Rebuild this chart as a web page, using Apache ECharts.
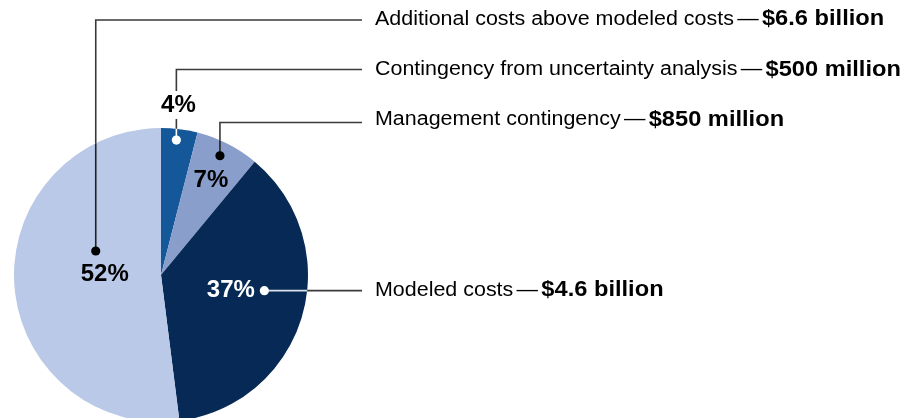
<!DOCTYPE html>
<html>
<head>
<meta charset="utf-8">
<title>Cost estimate components</title>
<style>
  html, body { margin: 0; padding: 0; background: #fff; }
  #main { width: 912px; height: 418px; }
</style>
</head>
<body>
<div id="main"></div>
<script src="https://cdn.jsdelivr.net/npm/echarts@6/dist/echarts.min.js"></script>
<script>
// data, clockwise from 12 o'clock
var names = ['Contingency from uncertainty analysis', 'Management contingency', 'Modeled costs', 'Additional costs above modeled costs'];
var amounts = ['$500 million', '$850 million', '$4.6 billion', '$6.6 billion'];
var shares = [4, 7, 37, 52];
var colors = ['#14589a', '#8a9ecb', '#062a55', '#b9c9e7'];

// callout styling for each slice (angle offset from slice middle in degrees, radius fraction)
var callouts = [
    {angle: -0.7, r: 0.924, dot: '#fff', inner: '#fff', pct: '#000', pdx: 2, pdy: -35, lineY: 69.5, textY: 70, bg: true},
    {angle: -0.7, r: 0.905, dot: '#000', inner: '#222', pct: '#000', pdx: -9, pdy: 25, lineY: 122.5, textY: 120},
    {angle: -7.6, r: 0.711, dot: '#fff', inner: '#dde1ea', pct: '#fff', pdx: -33.5, pdy: 0, lineY: null, textY: 290.5},
    {angle: 23.8, r: 0.473, dot: '#000', inner: '#222', pct: '#000', pdx: 9, pdy: 23, lineY: 20, textY: 19.5}
];

var FONT = '"Liberation Sans", Arial, Helvetica, sans-serif';
var lineEndX = 362;
var textX = 375;
var lineColor = '#3a3a3a';

var chart = echarts.init(document.getElementById('main'));
chart.setOption({
    animation: false,
    series: [{
        type: 'pie',
        center: [161, 275],
        radius: 147,
        startAngle: 90,
        clockwise: true,
        silent: true,
        label: {show: false},
        labelLine: {show: false},
        itemStyle: {borderWidth: 0},
        data: shares.map(function (v, i) {
            return {value: v, name: names[i], itemStyle: {color: colors[i]}};
        })
    }]
});

// read slice geometry back from the pie layout
function sliceLayout(i) {
    var lay = null;
    try {
        lay = chart.getModel().getSeriesByIndex(0).getData().getItemLayout(i);
    } catch (e) {}
    return lay;
}

var graphics = [];
shares.forEach(function (v, i) {
    var lay = sliceLayout(i);
    var c = callouts[i];
    var cx = lay.cx, cy = lay.cy, R = lay.r;
    var dir = lay.clockwise === false ? -1 : 1;
    var mid = (lay.startAngle + lay.endAngle) / 2 + dir * c.angle * Math.PI / 180;
    var dx = cx + R * c.r * Math.cos(mid);
    var dy = cy + R * c.r * Math.sin(mid);

    // leader line: inside part of the pie, then outside part
    var exit, rest;
    if (c.lineY === null) {
        exit = [cx + Math.sqrt(R * R - (dy - cy) * (dy - cy)), dy];
        rest = [exit, [lineEndX, dy]];
    } else {
        exit = [dx, cy - Math.sqrt(R * R - (dx - cx) * (dx - cx))];
        rest = [exit, [dx, c.lineY], [lineEndX, c.lineY]];
    }
    graphics.push({
        type: 'polyline', z: 10, silent: true,
        shape: {points: [[dx, dy], exit]},
        style: {stroke: c.inner, lineWidth: 1.6, fill: null}
    });
    graphics.push({
        type: 'polyline', z: 10, silent: true,
        shape: {points: rest},
        style: {stroke: lineColor, lineWidth: 1.6, fill: null}
    });
    graphics.push({
        type: 'circle', z: 12, silent: true,
        shape: {cx: dx, cy: dy, r: 4.6},
        style: {fill: c.dot}
    });
    // percentage label
    graphics.push({
        type: 'text', z: 14, silent: true,
        x: dx + c.pdx, y: dy + c.pdy,
        style: {
            text: v + '%',
            fill: c.pct,
            font: 'bold 24px ' + FONT,
            align: 'center',
            verticalAlign: 'middle',
            backgroundColor: c.bg ? '#fff' : null,
            padding: c.bg ? [2, 3] : 0
        }
    });
    // right side label
    graphics.push({
        type: 'text', z: 14, silent: true,
        x: textX, y: c.textY, scaleX: 1.1,
        style: {
            text: '{n|' + names[i] + '}{d|\u2014}{b|' + amounts[i] + '}',
            align: 'left',
            verticalAlign: 'middle',
            rich: {
                n: {fontFamily: FONT, fontSize: 19.5, fill: '#000'},
                d: {fontFamily: FONT, fontSize: 19.5, fill: '#000', padding: [0, 3]},
                b: {fontFamily: FONT, fontSize: 21.5, fontWeight: 'bold', fill: '#000'}
            }
        }
    });
});

chart.setOption({graphic: graphics});
</script>
</body>
</html>
